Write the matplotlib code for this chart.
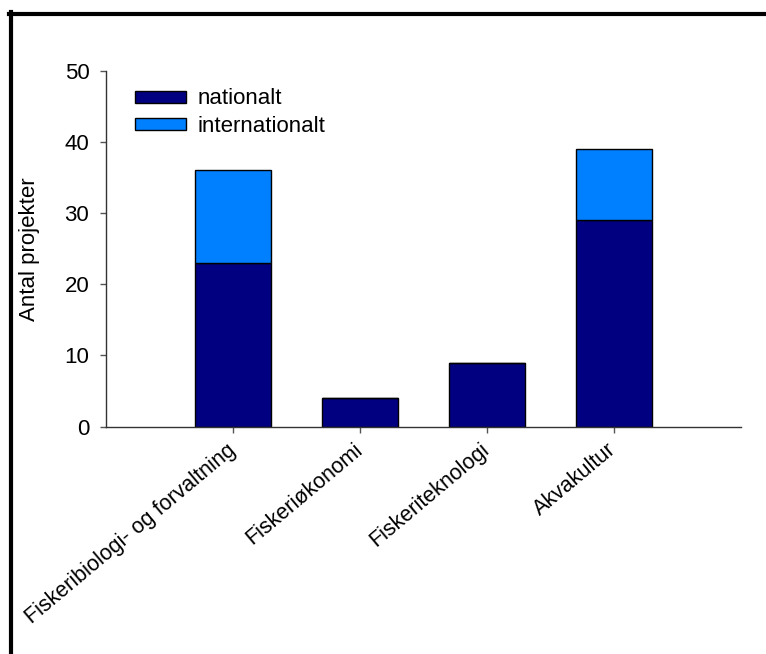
import numpy as np
import matplotlib
matplotlib.use('Agg')
import matplotlib.pyplot as plt
from matplotlib.lines import Line2D

categories = ['Fiskeribiologi- og forvaltning', 'Fiskeriøkonomi',
              'Fiskeriteknologi', 'Akvakultur']
nationalt = [23, 4, 9, 29]
internationalt = [13, 0, 0, 10]
y_ticks = [0, 10, 20, 30, 40, 50]

plt.rcParams['font.family'] = ['Liberation Sans', 'DejaVu Sans']
fs = 16

fig = plt.figure(figsize=(7.66, 6.54), dpi=100)
ax = fig.add_axes([106 / 766, 1 - 426.7 / 654, 635 / 766, 356 / 654])

x = np.arange(1, len(categories) + 1)
ax.bar(x, nationalt, width=0.6, color='#000080', edgecolor='black',
       linewidth=1, label='nationalt')
ax.bar(x, internationalt, width=0.6, bottom=nationalt, color='#0080FF',
       edgecolor='black', linewidth=1, label='internationalt')

ax.set_xlim(0, 5)
ax.set_ylim(0, 50)
ax.set_yticks(y_ticks)
ax.set_xticks(x)
ax.set_xticklabels(categories, rotation=40, ha='right', va='center',
                   rotation_mode='anchor', fontsize=15.5)

for s in ['top', 'right']:
    ax.spines[s].set_visible(False)
for s in ['left', 'bottom']:
    ax.spines[s].set_color('#333333')
    ax.spines[s].set_linewidth(1)
ax.tick_params(axis='both', direction='out', length=4, width=1,
               color='#555555')
ax.tick_params(axis='y', labelsize=fs, pad=8)
ax.tick_params(axis='x', pad=11)

fig.text(30 / 766, 1 - 249 / 654, 'Antal projekter', rotation=90,
         ha='center', va='center', fontsize=fs)

ax.legend(loc='upper left', bbox_to_anchor=(0.045, 0.95), frameon=False,
          fontsize=fs, handlelength=2.3, handleheight=0.45,
          handletextpad=0.55, labelspacing=0.3, borderpad=0,
          borderaxespad=0)

# ramme (kun top og venstre er synlige)
fig.add_artist(Line2D([9 / 766, 1], [1 - 14 / 654, 1 - 14 / 654],
                      transform=fig.transFigure, color='black', linewidth=3))
fig.add_artist(Line2D([11 / 766, 11 / 766], [0, 1 - 12 / 654],
                      transform=fig.transFigure, color='black', linewidth=3))

fig.savefig('out.png', dpi=100)
